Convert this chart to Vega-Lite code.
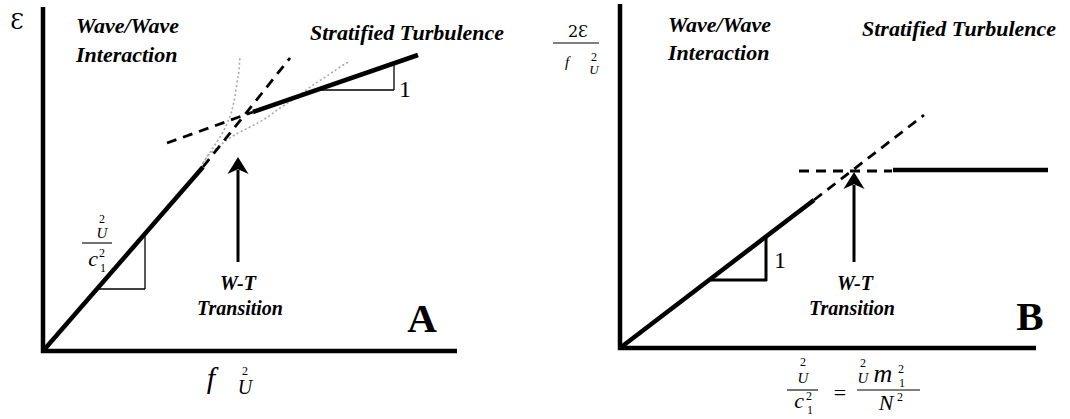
{
  "$schema": "https://vega.github.io/schema/vega-lite/v6.json",
  "width": 1070,
  "height": 419,
  "autosize": {"type": "fit", "contains": "padding"},
  "padding": 0,
  "background": "white",
  "config": {"view": {"stroke": null}},
  "datasets": {
    "segments": [
      {"kind": "axis", "x": 43, "y": 7, "x2": 43, "y2": 353},
      {"kind": "axis", "x": 41, "y": 351, "x2": 457, "y2": 351},
      {"kind": "axis", "x": 620, "y": 4, "x2": 620, "y2": 350},
      {"kind": "axis", "x": 618, "y": 348, "x2": 1036, "y2": 348},
      {"kind": "solid", "x": 43, "y": 351, "x2": 203, "y2": 167},
      {"kind": "solid", "x": 253, "y": 112, "x2": 418, "y2": 55},
      {"kind": "solid", "x": 620, "y": 348, "x2": 814, "y2": 200},
      {"kind": "solid", "x": 893, "y": 170, "x2": 1048, "y2": 170},
      {"kind": "dashed", "x": 203, "y": 167, "x2": 290, "y2": 58},
      {"kind": "dashed", "x": 167, "y": 143, "x2": 253, "y2": 112},
      {"kind": "dashed", "x": 814, "y": 200, "x2": 924, "y2": 115},
      {"kind": "dashed", "x": 799, "y": 171, "x2": 892, "y2": 171},
      {"kind": "thin", "x": 97, "y": 289, "x2": 145, "y2": 289},
      {"kind": "thin", "x": 145, "y": 289, "x2": 145, "y2": 234},
      {"kind": "thin", "x": 320, "y": 90, "x2": 394, "y2": 90},
      {"kind": "thin", "x": 394, "y": 90, "x2": 394, "y2": 62},
      {"kind": "tri", "x": 711, "y": 280, "x2": 767, "y2": 280},
      {"kind": "tri", "x": 766, "y": 281, "x2": 766, "y2": 236},
      {"kind": "shaft", "x": 238, "y": 262, "x2": 238, "y2": 170},
      {"kind": "shaft", "x": 854, "y": 262, "x2": 854, "y2": 185},
      {"kind": "bar", "x": 82, "y": 243, "x2": 112, "y2": 243},
      {"kind": "bar", "x": 553, "y": 43, "x2": 599, "y2": 43},
      {"kind": "bar", "x": 787, "y": 390, "x2": 818, "y2": 390},
      {"kind": "bar", "x": 857, "y": 390, "x2": 920, "y2": 390}
    ],
    "curves": [
      {"c": "c1", "o": 1, "x": 200, "y": 168},
      {"c": "c1", "o": 2, "x": 204, "y": 162},
      {"c": "c1", "o": 3, "x": 208, "y": 155},
      {"c": "c1", "o": 4, "x": 213, "y": 148},
      {"c": "c1", "o": 5, "x": 218, "y": 140},
      {"c": "c1", "o": 6, "x": 223, "y": 132},
      {"c": "c1", "o": 7, "x": 228, "y": 121},
      {"c": "c1", "o": 8, "x": 232, "y": 110},
      {"c": "c1", "o": 9, "x": 235, "y": 96},
      {"c": "c1", "o": 10, "x": 237, "y": 83},
      {"c": "c1", "o": 11, "x": 239, "y": 70},
      {"c": "c1", "o": 12, "x": 240, "y": 56},
      {"c": "c2", "o": 1, "x": 203, "y": 163},
      {"c": "c2", "o": 2, "x": 207, "y": 157},
      {"c": "c2", "o": 3, "x": 217, "y": 148},
      {"c": "c2", "o": 4, "x": 227, "y": 140},
      {"c": "c2", "o": 5, "x": 238, "y": 133},
      {"c": "c2", "o": 6, "x": 250, "y": 127},
      {"c": "c2", "o": 7, "x": 263, "y": 120},
      {"c": "c2", "o": 8, "x": 280, "y": 108},
      {"c": "c2", "o": 9, "x": 297, "y": 97},
      {"c": "c2", "o": 10, "x": 313, "y": 85},
      {"c": "c2", "o": 11, "x": 327, "y": 76},
      {"c": "c2", "o": 12, "x": 337, "y": 69},
      {"c": "c2", "o": 13, "x": 350, "y": 61}
    ],
    "arrowheads": [
      {"x": 238, "y": 157},
      {"x": 854, "y": 172}
    ],
    "labels": [
      {"g": "region", "t": "Wave/Wave", "x": 76, "y": 33},
      {"g": "region", "t": "Interaction", "x": 76, "y": 62},
      {"g": "region", "t": "Stratified Turbulence", "x": 310, "y": 40},
      {"g": "region", "t": "Wave/Wave", "x": 668, "y": 32},
      {"g": "region", "t": "Interaction", "x": 668, "y": 60},
      {"g": "region", "t": "Stratified Turbulence", "x": 862, "y": 36},
      {"g": "transition", "t": "W-T", "x": 238, "y": 290},
      {"g": "transition", "t": "Transition", "x": 240, "y": 315},
      {"g": "transition", "t": "W-T", "x": 855, "y": 290},
      {"g": "transition", "t": "Transition", "x": 852, "y": 315},
      {"g": "panel", "t": "A", "x": 422, "y": 332},
      {"g": "panel", "t": "B", "x": 1030, "y": 330},
      {"g": "num24", "t": "1", "x": 405, "y": 97},
      {"g": "num24", "t": "1", "x": 780, "y": 268},
      {"g": "epsA", "t": "Ɛ", "x": 17, "y": 29},
      {"g": "epsB", "t": "2Ɛ", "x": 578, "y": 37},
      {"g": "it30", "t": "f", "x": 211, "y": 388},
      {"g": "it22", "t": "c", "x": 93, "y": 266},
      {"g": "it22", "t": "c", "x": 799, "y": 408},
      {"g": "it22", "t": "N", "x": 886, "y": 410},
      {"g": "it26", "t": "m", "x": 883, "y": 382},
      {"g": "it20", "t": "U", "x": 245, "y": 394},
      {"g": "it15", "t": "U", "x": 102, "y": 238},
      {"g": "it15", "t": "U", "x": 803, "y": 383},
      {"g": "it15", "t": "U", "x": 863, "y": 383},
      {"g": "it15", "t": "f", "x": 567, "y": 67},
      {"g": "it13", "t": "U", "x": 594, "y": 74},
      {"g": "sc", "t": "2", "x": 245, "y": 375},
      {"g": "sc", "t": "2", "x": 102, "y": 223},
      {"g": "sc", "t": "2", "x": 102, "y": 257},
      {"g": "sc", "t": "1", "x": 103, "y": 272},
      {"g": "sc", "t": "2", "x": 594, "y": 61},
      {"g": "sc", "t": "2", "x": 803, "y": 366},
      {"g": "sc", "t": "2", "x": 809, "y": 400},
      {"g": "sc", "t": "1", "x": 810, "y": 414},
      {"g": "sc", "t": "2", "x": 863, "y": 367},
      {"g": "sc", "t": "2", "x": 901, "y": 373},
      {"g": "sc", "t": "1", "x": 902, "y": 387},
      {"g": "sc", "t": "2", "x": 900, "y": 401},
      {"g": "eq", "t": "=", "x": 840, "y": 400}
    ]
  },
  "encoding": {
    "x": {"field": "x", "type": "quantitative", "scale": {"domain": [0, 1070], "nice": false, "zero": false}, "axis": null},
    "y": {"field": "y", "type": "quantitative", "scale": {"domain": [0, 419], "nice": false, "zero": false, "reverse": true}, "axis": null}
  },
  "layer": [
    {
      "data": {"name": "curves"},
      "mark": {"type": "line", "color": "#a8a8a8", "strokeWidth": 1.6, "strokeDash": [2, 2.5], "interpolate": "monotone"},
      "encoding": {"detail": {"field": "c"}, "order": {"field": "o", "type": "quantitative"}}
    },
    {
      "data": {"name": "segments"},
      "transform": [{"filter": "datum.kind === 'axis'"}],
      "mark": {"type": "rule", "color": "black", "strokeWidth": 4.5, "strokeCap": "butt"},
      "encoding": {"x2": {"field": "x2"}, "y2": {"field": "y2"}}
    },
    {
      "data": {"name": "segments"},
      "transform": [{"filter": "datum.kind === 'solid'"}],
      "mark": {"type": "rule", "color": "black", "strokeWidth": 4.5, "strokeCap": "butt"},
      "encoding": {"x2": {"field": "x2"}, "y2": {"field": "y2"}}
    },
    {
      "data": {"name": "segments"},
      "transform": [{"filter": "datum.kind === 'dashed'"}],
      "mark": {"type": "rule", "color": "black", "strokeWidth": 2.8, "strokeDash": [10, 7], "strokeCap": "butt"},
      "encoding": {"x2": {"field": "x2"}, "y2": {"field": "y2"}}
    },
    {
      "data": {"name": "segments"},
      "transform": [{"filter": "datum.kind === 'thin'"}],
      "mark": {"type": "rule", "color": "black", "strokeWidth": 1.3},
      "encoding": {"x2": {"field": "x2"}, "y2": {"field": "y2"}}
    },
    {
      "data": {"name": "segments"},
      "transform": [{"filter": "datum.kind === 'tri'"}],
      "mark": {"type": "rule", "color": "black", "strokeWidth": 3},
      "encoding": {"x2": {"field": "x2"}, "y2": {"field": "y2"}}
    },
    {
      "data": {"name": "segments"},
      "transform": [{"filter": "datum.kind === 'shaft'"}],
      "mark": {"type": "rule", "color": "black", "strokeWidth": 3},
      "encoding": {"x2": {"field": "x2"}, "y2": {"field": "y2"}}
    },
    {
      "data": {"name": "segments"},
      "transform": [{"filter": "datum.kind === 'bar'"}],
      "mark": {"type": "rule", "color": "black", "strokeWidth": 1.1},
      "encoding": {"x2": {"field": "x2"}, "y2": {"field": "y2"}}
    },
    {
      "data": {"name": "arrowheads"},
      "mark": {"type": "point", "shape": "M0,0 L0.62,1 L0,0.72 L-0.62,1 Z", "size": 1156, "filled": true, "color": "black", "opacity": 1, "strokeWidth": 0}
    },
    {
      "data": {"name": "labels"},
      "transform": [{"filter": "datum.g === 'region'"}],
      "mark": {"type": "text", "align": "left", "baseline": "alphabetic", "font": "Liberation Serif", "fontSize": 22, "fontWeight": "bold", "fontStyle": "italic", "color": "black"},
      "encoding": {"text": {"field": "t"}}
    },
    {
      "data": {"name": "labels"},
      "transform": [{"filter": "datum.g === 'transition'"}],
      "mark": {"type": "text", "align": "center", "baseline": "alphabetic", "font": "Liberation Serif", "fontSize": 20, "fontWeight": "bold", "fontStyle": "italic", "color": "black"},
      "encoding": {"text": {"field": "t"}}
    },
    {
      "data": {"name": "labels"},
      "transform": [{"filter": "datum.g === 'panel'"}],
      "mark": {"type": "text", "align": "center", "baseline": "alphabetic", "font": "Liberation Serif", "fontSize": 41, "fontWeight": "bold", "color": "black"},
      "encoding": {"text": {"field": "t"}}
    },
    {
      "data": {"name": "labels"},
      "transform": [{"filter": "datum.g === 'num24'"}],
      "mark": {"type": "text", "align": "center", "baseline": "alphabetic", "font": "Liberation Serif", "fontSize": 24, "color": "black"},
      "encoding": {"text": {"field": "t"}}
    },
    {
      "data": {"name": "labels"},
      "transform": [{"filter": "datum.g === 'epsA'"}],
      "mark": {"type": "text", "align": "center", "baseline": "alphabetic", "font": "DejaVu Serif", "fontSize": 22, "color": "black"},
      "encoding": {"text": {"field": "t"}}
    },
    {
      "data": {"name": "labels"},
      "transform": [{"filter": "datum.g === 'epsB'"}],
      "mark": {"type": "text", "align": "center", "baseline": "alphabetic", "font": "DejaVu Serif", "fontSize": 16, "color": "black"},
      "encoding": {"text": {"field": "t"}}
    },
    {
      "data": {"name": "labels"},
      "transform": [{"filter": "datum.g === 'it30'"}],
      "mark": {"type": "text", "align": "center", "baseline": "alphabetic", "font": "Liberation Serif", "fontSize": 30, "fontStyle": "italic", "color": "black"},
      "encoding": {"text": {"field": "t"}}
    },
    {
      "data": {"name": "labels"},
      "transform": [{"filter": "datum.g === 'it26'"}],
      "mark": {"type": "text", "align": "center", "baseline": "alphabetic", "font": "Liberation Serif", "fontSize": 26, "fontStyle": "italic", "color": "black"},
      "encoding": {"text": {"field": "t"}}
    },
    {
      "data": {"name": "labels"},
      "transform": [{"filter": "datum.g === 'it22'"}],
      "mark": {"type": "text", "align": "center", "baseline": "alphabetic", "font": "Liberation Serif", "fontSize": 22, "fontStyle": "italic", "color": "black"},
      "encoding": {"text": {"field": "t"}}
    },
    {
      "data": {"name": "labels"},
      "transform": [{"filter": "datum.g === 'it20'"}],
      "mark": {"type": "text", "align": "center", "baseline": "alphabetic", "font": "Liberation Serif", "fontSize": 20, "fontStyle": "italic", "color": "black"},
      "encoding": {"text": {"field": "t"}}
    },
    {
      "data": {"name": "labels"},
      "transform": [{"filter": "datum.g === 'it15'"}],
      "mark": {"type": "text", "align": "center", "baseline": "alphabetic", "font": "Liberation Serif", "fontSize": 15, "fontStyle": "italic", "color": "black"},
      "encoding": {"text": {"field": "t"}}
    },
    {
      "data": {"name": "labels"},
      "transform": [{"filter": "datum.g === 'it13'"}],
      "mark": {"type": "text", "align": "center", "baseline": "alphabetic", "font": "Liberation Serif", "fontSize": 13, "fontStyle": "italic", "color": "black"},
      "encoding": {"text": {"field": "t"}}
    },
    {
      "data": {"name": "labels"},
      "transform": [{"filter": "datum.g === 'sc'"}],
      "mark": {"type": "text", "align": "center", "baseline": "alphabetic", "font": "Liberation Serif", "fontSize": 12, "color": "black"},
      "encoding": {"text": {"field": "t"}}
    },
    {
      "data": {"name": "labels"},
      "transform": [{"filter": "datum.g === 'eq'"}],
      "mark": {"type": "text", "align": "center", "baseline": "alphabetic", "font": "Liberation Serif", "fontSize": 22, "color": "black"},
      "encoding": {"text": {"field": "t"}}
    }
  ]
}
